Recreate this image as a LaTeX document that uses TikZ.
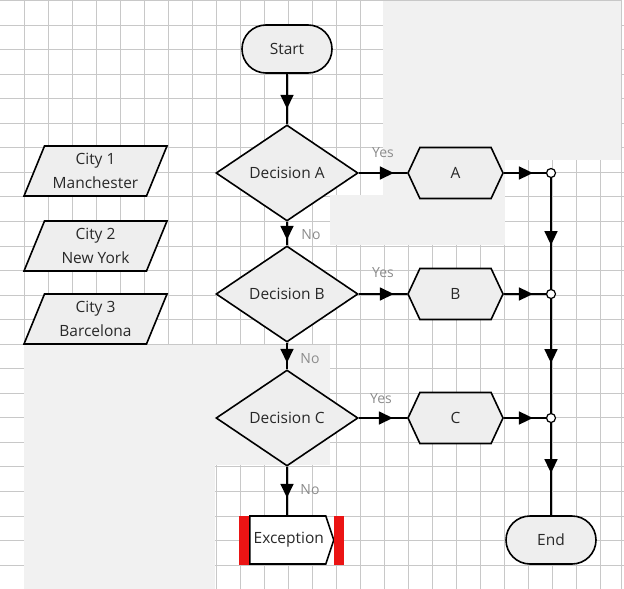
\documentclass[tikz,border=0pt]{standalone}
\usepackage{fontspec}
\setmainfont{Open Sans}
\usetikzlibrary{shapes.geometric,shapes.misc,shapes.symbols,decorations.markings,arrows.meta}
\definecolor{shapefill}{RGB}{238,238,238}
\definecolor{patchgray}{RGB}{241,241,241}
\definecolor{gridgray}{RGB}{200,200,200}
\definecolor{lblgray}{RGB}{140,140,140}
\definecolor{txt}{RGB}{40,40,40}
\definecolor{excred}{RGB}{235,20,20}
\begin{document}
\begin{tikzpicture}[x=1pt,y=-1pt,
  every node/.style={font=\fontsize{15.5}{24}\selectfont, text=txt},
  gridline/.style={draw=gridgray, line width=0.9pt},
  outl/.style={draw=black, line width=1.6pt, fill=shapefill, inner sep=0pt},
  term/.style={outl, rounded rectangle, minimum width=90pt, minimum height=48pt},
  decision/.style={outl, diamond, minimum width=142pt, minimum height=96pt, aspect=1.48},
  hexa/.style={outl, signal, signal to=east and west, signal pointer angle=130, minimum width=95pt, minimum height=51pt},
  city/.style={outl, trapezium, trapezium left angle=60, trapezium right angle=120, trapezium stretches body, minimum width=143pt, minimum height=50pt, align=center},
  excbox/.style={draw=black, line width=1.6pt, fill=white, inner sep=0pt, signal, signal to=east, signal pointer angle=143, minimum width=84pt, minimum height=48pt},
  redbar/.style={fill=excred, inner sep=0pt, minimum width=10pt, minimum height=49pt},
  junc/.style={circle, draw=black, line width=1.2pt, fill=white, inner sep=0pt, minimum size=9pt},
  lbl/.style={font=\fontsize{14}{16}\selectfont, text=lblgray},
  conn/.style={draw=black, line width=1.6pt},
  midarrow/.style={postaction={decorate,decoration={markings,mark=at position #1 with {\arrow{Triangle[length=14pt,width=13pt]}}}}}
]
\useasboundingbox (0,0) rectangle (624,589);
% grid
\foreach \i in {1,...,25} \draw[gridline] (24*\i,0) -- (24*\i,589);
\foreach \j in {0,...,23} \draw[gridline] (0,25+24.55*\j) -- (624,25+24.55*\j);
% gray patches
\fill[patchgray] (383,0) rectangle (621,160);
\fill[patchgray] (383,160) rectangle (505,245);
\fill[patchgray] (330,195) rectangle (383,245);
\fill[patchgray] (24,345) rectangle (330,465);
\fill[patchgray] (24,465) rectangle (215,589);
\draw[gridgray, line width=0.8pt] (0,0.5) -- (621,0.5) -- (621,589);

% nodes
\node[term] (start) at (287,49) {Start};
\node[decision] (A) at (287,173) {Decision A};
\node[decision] (B) at (287,294) {Decision B};
\node[decision] (C) at (287,418) {Decision C};
\node[hexa] (hA) at (455.5,173) {A};
\node[hexa] (hB) at (455.5,294) {B};
\node[hexa] (hC) at (455.5,418) {C};
\node[junc] (j1) at (551,173) {};
\node[junc] (j2) at (551,294) {};
\node[junc] (j3) at (551,418) {};
\node[term] (end) at (551,540) {End};
\node[excbox, anchor=west] (exc) at (249,540) {\hspace*{2pt}Exception};
\node[redbar, anchor=east] (rb1) at (exc.west) {};
\node[redbar] (rb2) at (339,540) {};
\node[city] (c1) at (95.5,171) {City 1\\Manchester};
\node[city] (c2) at (95.5,246) {City 2\\New York};
\node[city] (c3) at (95.5,319) {City 3\\Barcelona};

% labels
\node[lbl] (yA) at (383,153) {Yes};
\node[lbl] (yB) at (383,273) {Yes};
\node[lbl] (yC) at (381,399) {Yes};
\node[lbl] (nA) at (311,235) {No};
\node[lbl] (nB) at (310,359) {No};
\node[lbl] (nC) at (310,490) {No};

% connectors
\draw[conn, midarrow=35pt] (start) -- (A);
\draw[conn, midarrow=18pt] (A) -- (B);
\draw[conn, midarrow=20pt] (B) -- (C);
\draw[conn, midarrow=31pt] (C) -- (exc.north -| C);
\draw[conn, midarrow=35pt] (A) -- (hA);
\draw[conn, midarrow=35pt] (B) -- (hB);
\draw[conn, midarrow=34pt] (C) -- (hC);
\draw[conn, midarrow=29pt] (hA) -- (j1);
\draw[conn, midarrow=29pt] (hB) -- (j2);
\draw[conn, midarrow=29pt] (hC) -- (j3);
\draw[conn, midarrow=67pt] (j1) -- (j2);
\draw[conn, midarrow=64pt] (j2) -- (j3);
\draw[conn, midarrow=50pt] (j3) -- (end);
\end{tikzpicture}
\end{document}
